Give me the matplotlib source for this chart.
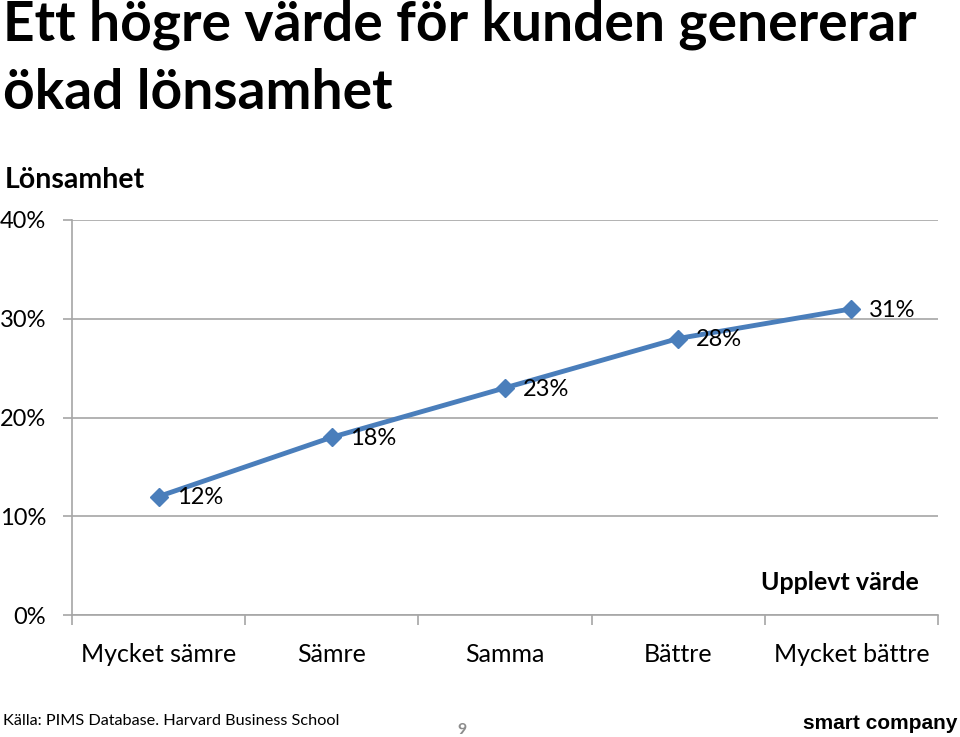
import matplotlib
matplotlib.use("Agg")
import matplotlib.pyplot as plt
import numpy as np

# Data
categories = ["Mycket sämre", "Sämre", "Samma", "Bättre", "Mycket bättre"]
profitability = [12, 18, 23, 28, 31]
y_ticks = [0, 10, 20, 30, 40]

line_color = "#4a7ebb"
grid_color = "#a6a6a6"
body_font = ["Lato", "DejaVu Sans"]

fig = plt.figure(figsize=(9.6, 7.37), dpi=100)
ax = fig.add_axes([0.075, 0.1655, 0.902, 0.536])

x = np.arange(len(categories))
ax.plot(x, profitability, color=line_color, linewidth=3.5, marker="D",
        markersize=9.5, markerfacecolor=line_color, markeredgecolor=line_color,
        zorder=3)

# Data labels to the right of each point
for xi, v in zip(x, profitability):
    ax.annotate(f"{v}%", (xi, v), xytext=(13, -1), textcoords="offset points",
                ha="left", va="center", fontsize=17, family=body_font)

ax.set_xlim(-0.5, len(categories) - 0.5)
ax.set_ylim(0, 40)

# Y axis
ax.set_yticks(y_ticks)
ax.set_yticklabels([f"{t}%" for t in y_ticks], fontsize=17, family=body_font)
ax.grid(axis="y", color=grid_color, linewidth=1.2)
ax.set_axisbelow(True)
ax.tick_params(axis="y", length=6.5, color=grid_color, width=1.2, pad=12)

# X axis: labels at centers, tick marks between categories
ax.set_xticks(x)
ax.set_xticklabels(categories, fontsize=18, family=body_font)
ax.set_xticks(np.arange(-0.5, len(categories)), minor=True)
ax.tick_params(axis="x", which="major", length=0, pad=20)
ax.tick_params(axis="x", which="minor", length=7, color=grid_color, width=1.2)

for side in ["top", "right"]:
    ax.spines[side].set_visible(False)
for side in ["left", "bottom"]:
    ax.spines[side].set_color(grid_color)
    ax.spines[side].set_linewidth(1.2)

# Titles and annotations
fig.text(0.003, 1.0, "Ett högre värde för kunden genererar\nökad lönsamhet",
         ha="left", va="top", fontsize=39.7, fontweight="bold",
         family=body_font, linespacing=1.43)
fig.text(0.005, 0.756, "Lönsamhet", ha="left", va="center", fontsize=20.5,
         fontweight="bold", family=body_font)
fig.text(0.957, 0.209, "Upplevt värde", ha="right", va="center", fontsize=18,
         fontweight="bold", family=body_font)
fig.text(0.003, 0.022, "Källa: PIMS Database. Harvard Business School",
         ha="left", va="center", fontsize=11.7, family=body_font)
fig.text(0.481, 0.009, "9", ha="center", va="center", fontsize=11.5,
         fontweight="bold", color="#8c8c8c", family=body_font)
fig.text(0.997, 0.018, "smart company", ha="right", va="center", fontsize=15,
         fontweight="bold", family="Liberation Sans")

fig.savefig("out.png", dpi=100)
